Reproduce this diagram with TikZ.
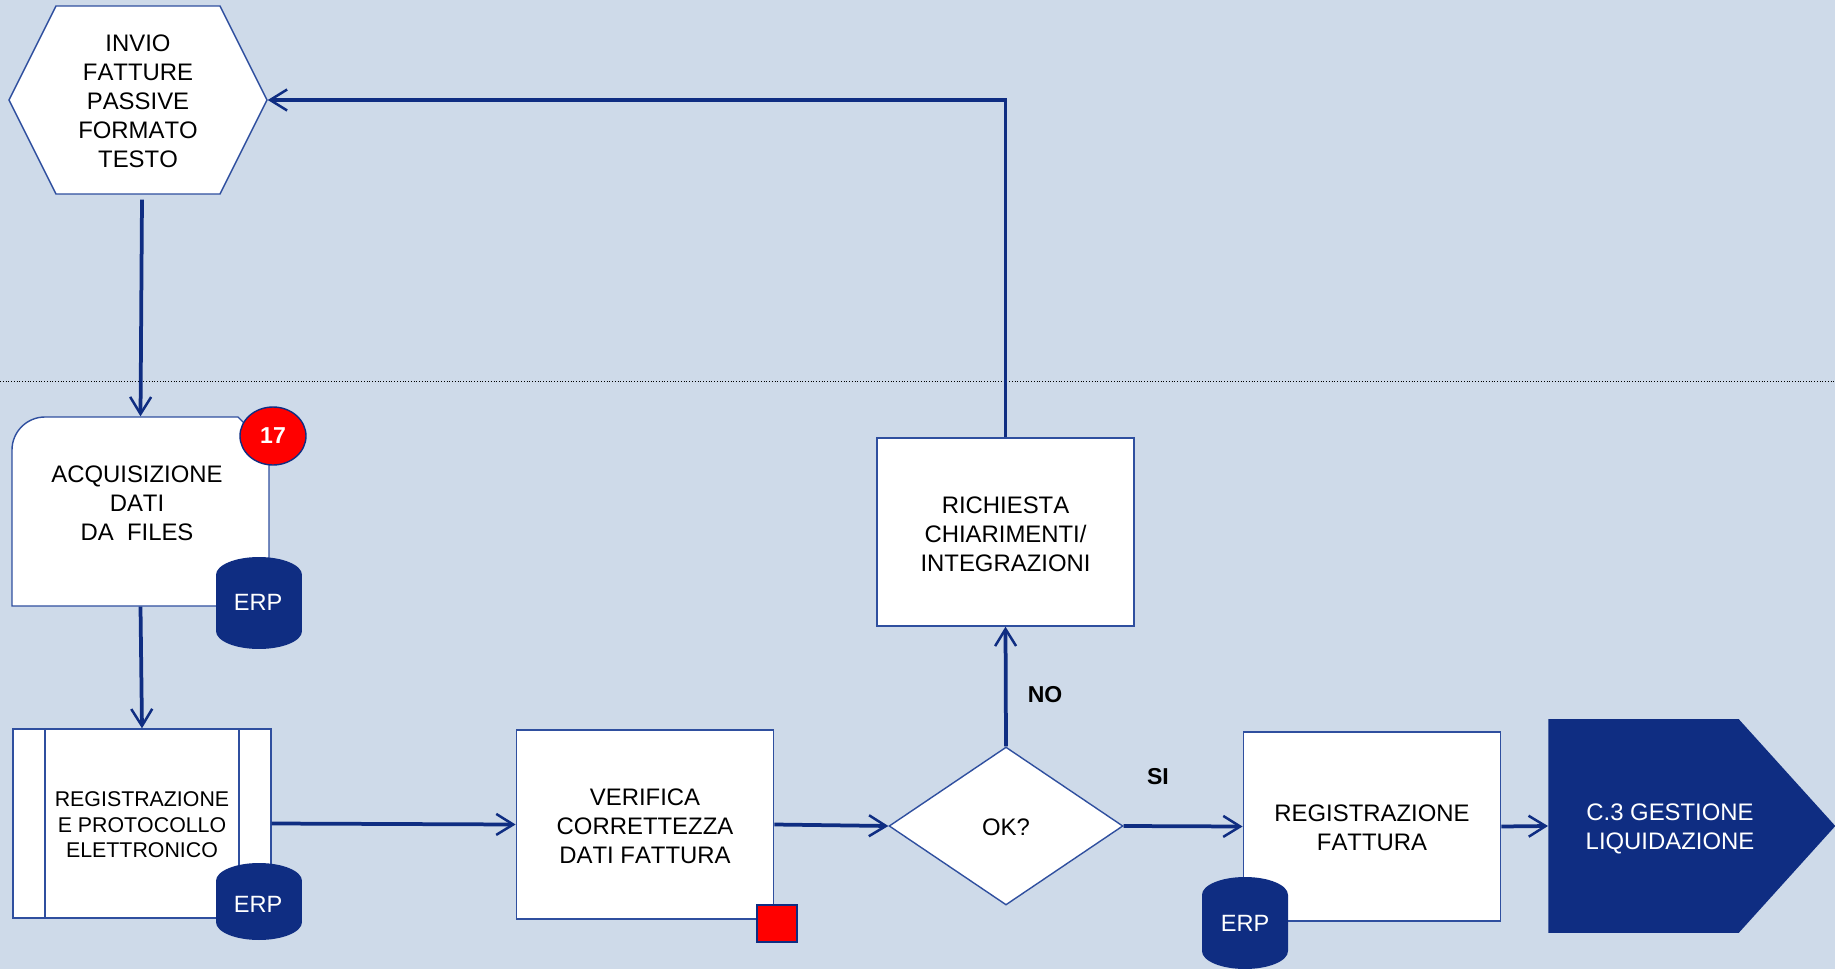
\documentclass[tikz,border=0pt]{standalone}
\usepackage{fontspec}
\setmainfont[Kerning=Off]{Liberation Sans}
\usetikzlibrary{arrows.meta,calc,shapes.geometric,shapes.symbols}
\definecolor{sfondo}{HTML}{CEDAE9}
\definecolor{navy}{HTML}{0F2D82}
\definecolor{bordo}{HTML}{2F4F9F}
\tikzset{
  flowline/.style={navy,line width=0.075cm,-{Straight Barb[length=0.34cm,width=0.42cm,line width=0.05cm]}},
  boxnode/.style={draw=bordo,fill=white,line width=0.028cm,inner sep=0pt,align=center,font=\fontsize{13.6}{16.5}\selectfont},
  labelnode/.style={inner sep=0pt,align=center,font=\fontsize{13.6}{16.5}\selectfont},
  erpdb/.style={cylinder,shape border rotate=90,shape aspect=0.75,fill=navy,inner sep=0pt,
    minimum width=1.72cm,anchor=shape center,font=\fontsize{13.2}{16}\selectfont},
  erptext/.style={labelnode,text=white,font=\fontsize{13.4}{16}\selectfont},
  boldtext/.style={labelnode,font=\fontsize{13.1}{16}\selectfont\bfseries},
}
\begin{document}
\begin{tikzpicture}[x=0.02cm,y=-0.02cm]
\fill[sfondo] (0,0) rectangle (1835,969);
\useasboundingbox (0,0) rectangle (1835,969);
\draw[black,line width=0.02cm,densely dotted] (0,381) -- (1835,381);
% blocchi
\node[boxnode,font=\fontsize{13.6}{16.4}\selectfont,signal,signal to=east and west,signal pointer angle=126.87,minimum width=5.16cm,minimum height=3.76cm,text height=76.5pt] (invio) at (138,100) {INVIO\\FATTURE\\PASSIVE\\FORMATO\\TESTO};
\node[boxnode,draw=none,fill=none,minimum width=5.14cm,minimum height=3.78cm] (acq) at (140.5,511.5) {};
\draw[draw=bordo,fill=white,line width=0.028cm] (12,450) arc (180:270:33) -- (238,417) -- (269,448) -- (269,606) -- (12,606) -- cycle;
\node[labelnode,text height=43.5pt] (acqtxt) at (137,502) {ACQUISIZIONE\\DATI\\DA\ \ FILES};
\node[boxnode,font=\fontsize{12.15}{14.5}\selectfont,minimum width=5.16cm,minimum height=3.78cm,text height=39pt] (reg) at (142,823.5) {REGISTRAZIONE\\E PROTOCOLLO\\ELETTRONICO};
\draw[draw=bordo,line width=0.028cm] (45,729) -- (45,918) (239,729) -- (239,918);
\node[boxnode,minimum width=5.15cm,minimum height=3.78cm,text height=44.2pt] (verifica) at (645,824.5) {VERIFICA\\CORRETTEZZA\\DATI FATTURA};
\node[boxnode,diamond,minimum width=4.68cm,minimum height=3.16cm,text height=11pt] (ok) at (1006,826) {OK?};
\node[boxnode,minimum width=5.14cm,minimum height=3.76cm,text height=45pt] (richiesta) at (1005.5,532) {RICHIESTA\\CHIARIMENTI/\\INTEGRAZIONI};
\node[boxnode,minimum width=5.15cm,minimum height=3.78cm,text height=27.5pt] (regfatt) at (1372,826.5) {REGISTRAZIONE\\FATTURA};
\node[signal,signal to=east,signal pointer angle=95.8,fill=navy,inner sep=0pt,minimum width=5.74cm,minimum height=4.28cm,anchor=west] (gestione) at (1548,826) {};
\node[labelnode,text=white] (gestionetxt) at (1670,829) {C.3 GESTIONE\\LIQUIDAZIONE};
% database e segni
\node[erpdb,minimum height=1.84cm] (erpa) at (259,603) {\phantom{ERP}};
\node[erptext] (erpatxt) at (258,602) {ERP};
\node[erpdb,minimum height=1.54cm] (erpb) at (259,901.5) {\phantom{ERP}};
\node[erptext] (erpbtxt) at (258,904.5) {ERP};
\node[erpdb,minimum height=1.84cm] (erpc) at (1245,923) {\phantom{ERP}};
\node[erptext] (erpctxt) at (1245,923.5) {ERP};
\node[ellipse,draw=navy,fill=red,line width=0.028cm,inner sep=0pt,minimum width=1.32cm,minimum height=1.16cm,text=white,font=\fontsize{13.1}{16}\selectfont\bfseries] (badge) at (273,436) {17};
\node[rectangle,draw=navy,fill=red,line width=0.04cm,minimum width=0.8cm,minimum height=0.74cm,inner sep=0pt] (quadro) at (776.5,923) {};
% frecce
\draw[flowline] ($(invio.south)+(4,5)$) -- (acq.north);
\draw[flowline] (acq.south) -- (reg.north);
\draw[flowline] (reg.east) -- (verifica.west);
\draw[flowline] (verifica.east) -- (ok.west);
\draw[flowline] (ok.north) -- (richiesta.south);
\draw[flowline] (richiesta.north) |- (invio.east);
\draw[flowline] (ok.east) -- (regfatt.west);
\draw[flowline] (regfatt.east) -- (gestione.west);
\node[boldtext] (no) at (1045,695) {NO};
\node[boldtext] (si) at (1158,777) {SI};
\end{tikzpicture}
\end{document}
